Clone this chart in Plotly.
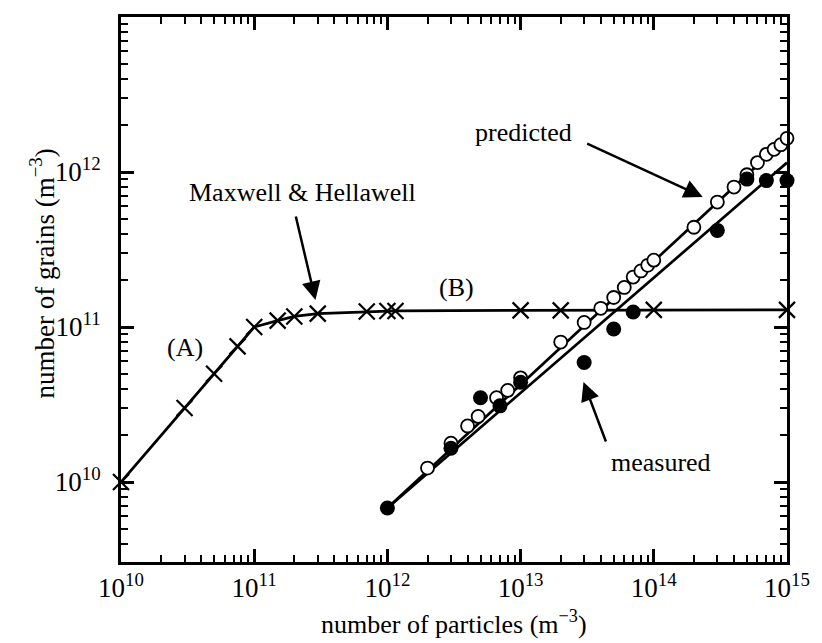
import plotly.graph_objects as go

# ---------------- data ----------------
mh_x = [1e10, 3e10, 5e10, 7.5e10, 1e11, 1.5e11, 2e11, 3e11, 7e11, 1e12, 1.15e12, 1e13, 2e13, 1e14, 1e15]
mh_y = [1e10, 3e10, 5e10, 7.5e10, 1e11, 1.1e11, 1.17e11, 1.22e11, 1.26e11, 1.27e11, 1.27e11, 1.28e11, 1.28e11, 1.29e11, 1.29e11]

pred_x = [2e12, 3e12, 4e12, 4.8e12, 6.6e12, 8e12, 1e13, 2e13, 3e13, 4e13, 5e13, 6e13, 7e13, 8e13, 9e13,
          1e14, 2e14, 3e14, 4e14, 5e14, 6e14, 7e14, 8e14, 9e14, 1e15]
pred_y = [1.23e10, 1.78e10, 2.3e10, 2.65e10, 3.5e10, 3.9e10, 4.7e10, 8e10, 1.07e11, 1.32e11, 1.55e11, 1.8e11,
          2.1e11, 2.3e11, 2.5e11, 2.7e11, 4.4e11, 6.4e11, 8e11, 9.6e11, 1.15e12, 1.3e12, 1.4e12, 1.5e12, 1.65e12]

meas_x = [1e12, 3e12, 5e12, 7e12, 1e13, 3e13, 5e13, 7e13, 3e14, 5e14, 7e14, 1e15]
meas_y = [6.8e9, 1.65e10, 3.5e10, 3.1e10, 4.4e10, 5.9e10, 9.7e10, 1.25e11, 4.2e11, 9e11, 8.8e11, 8.8e11]

fit_x = [1e12, 1e15]
fit_pred_y = [6.8e9, 1.66e12]
fit_meas_y = [6.8e9, 1.15e12]

x_tick_vals = [1e10, 1e11, 1e12, 1e13, 1e14, 1e15]
x_tick_text = ["10<sup>10</sup>", "10<sup>11</sup>", "10<sup>12</sup>", "10<sup>13</sup>", "10<sup>14</sup>", "10<sup>15</sup>"]
y_tick_vals = [1e10, 1e11, 1e12, 1e13]
y_tick_text = ["10<sup>10</sup>", "10<sup>11</sup>", "10<sup>12</sup>", "10<sup>13</sup>"]

# ---------------- figure ----------------
FONT = "Liberation Serif, Times New Roman, serif"
fig = go.Figure()

fig.add_trace(go.Scatter(x=mh_x, y=mh_y, mode="lines+markers", cliponaxis=False,
                         line=dict(color="black", width=2.7),
                         marker=dict(symbol="x-thin-open", size=16, line=dict(color="black", width=2.2)),
                         showlegend=False))
fig.add_trace(go.Scatter(x=fit_x, y=fit_meas_y, mode="lines", cliponaxis=False,
                         line=dict(color="black", width=2.7), showlegend=False))
fig.add_trace(go.Scatter(x=fit_x, y=fit_pred_y, mode="lines", cliponaxis=False,
                         line=dict(color="black", width=2.7), showlegend=False))
fig.add_trace(go.Scatter(x=pred_x, y=pred_y, mode="markers", cliponaxis=False,
                         marker=dict(symbol="circle", size=13, color="white", line=dict(color="black", width=1.8)),
                         showlegend=False))
fig.add_trace(go.Scatter(x=meas_x, y=meas_y, mode="markers", cliponaxis=False,
                         marker=dict(symbol="circle", size=15, color="black", line=dict(color="black", width=0)),
                         showlegend=False))

def minor_vals(lo, hi):
    vals = []
    for d in range(lo, hi):
        for m in range(2, 10):
            vals.append(m * 10 ** d)
    return vals

fig.update_xaxes(type="log", range=[10, 15],
                 tickmode="array", tickvals=x_tick_vals, ticktext=x_tick_text,
                 ticks="inside", ticklen=13, tickwidth=2.5, tickcolor="black",
                 minor=dict(tickmode="array", tickvals=minor_vals(10, 15), ticks="inside",
                            ticklen=7, tickwidth=2, tickcolor="black", showgrid=False),
                 showline=True, linecolor="black", linewidth=2.7, mirror="allticks",
                 showgrid=False, zeroline=False,
                 tickfont=dict(family=FONT, size=27, color="black"),
                 ticklabelstandoff=0)
fig.update_yaxes(type="log", range=[9.484, 13],
                 tickmode="array", tickvals=y_tick_vals, ticktext=y_tick_text,
                 ticks="inside", ticklen=13, tickwidth=2.5, tickcolor="black",
                 minor=dict(tickmode="array", tickvals=minor_vals(9, 13), ticks="inside",
                            ticklen=7, tickwidth=2, tickcolor="black", showgrid=False),
                 showline=True, linecolor="black", linewidth=2.7, mirror="allticks",
                 showgrid=False, zeroline=False,
                 tickfont=dict(family=FONT, size=27, color="black"),
                 ticklabelstandoff=12)

ann_font = dict(family=FONT, size=26, color="black")
annotations = [
    # labels (positions in log10 data units)
    dict(x=11.364, y=11.865, text="Maxwell &amp; Hellawell", showarrow=False),
    dict(x=12.519, y=11.252, text="(B)", showarrow=False),
    dict(x=10.477, y=10.865, text="(A)", showarrow=False),
    dict(x=13.025, y=12.252, text="predicted", showarrow=False),
    dict(x=14.054, y=10.123, text="measured", showarrow=False),
    # arrows
    dict(x=11.46, y=11.174, ax=-20, ay=-85, text="", showarrow=True,
         arrowhead=2, arrowsize=1.5, arrowwidth=2.5, arrowcolor="black"),
    dict(x=14.367, y=11.839, ax=-117, ay=-54, text="", showarrow=True,
         arrowhead=2, arrowsize=1.5, arrowwidth=2.5, arrowcolor="black"),
    dict(x=13.472, y=10.645, ax=23, ay=61, text="", showarrow=True,
         arrowhead=2, arrowsize=1.5, arrowwidth=2.5, arrowcolor="black"),
]
for a in annotations:
    a.update(xref="x", yref="y", font=ann_font)
    fig.add_annotation(**a)

# axis titles
fig.add_annotation(xref="paper", yref="paper", x=0.5, y=-0.111, xanchor="center", yanchor="middle",
                   text="number of particles (m<sup>−3</sup>)", showarrow=False,
                   font=dict(family=FONT, size=26, color="black"))
fig.add_annotation(xref="paper", yref="paper", x=-0.118, y=0.53, xanchor="center", yanchor="middle",
                   text="number of grains (m<sup>−3</sup>)", textangle=-90, showarrow=False,
                   font=dict(family=FONT, size=27, color="black"))

fig.update_layout(width=822, height=643,
                  margin=dict(l=121, r=30, t=17, b=81),
                  paper_bgcolor="white", plot_bgcolor="white",
                  font=dict(family=FONT, color="black"))

fig.write_html("out.html")
